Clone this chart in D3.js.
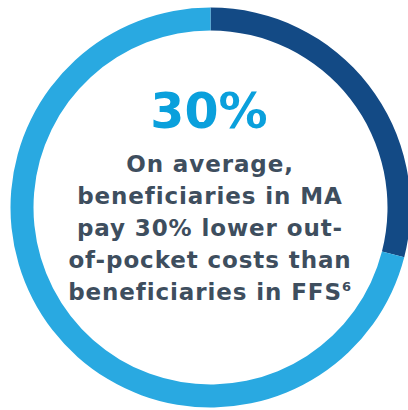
<!DOCTYPE html>
<html>
<head>
<meta charset="utf-8">
<script src="https://cdn.jsdelivr.net/npm/d3@7.9.0/dist/d3.min.js"></script>
<style>
  body { margin: 0; background: #fff; }
  svg { display: block; }
</style>
</head>
<body>
<svg width="408" height="410"></svg>
<script>
// ring data: share of MA savings vs remainder
const segments = ['Lower costs', 'Rest'];
const shares = [29, 71];
const colors = ['#134a85', '#29a9e1'];

const headline = '30%';
const bodyLines = ['On average,', 'beneficiaries in MA', 'pay 30% lower out-', 'of-pocket costs than', 'beneficiaries in FFS'];
const footnote = '6';

const svg = d3.select('svg');
const cx = 210.5, cy = 207.5;

const pie = d3.pie().sort(null).value(d => d);
const arc = d3.arc().innerRadius(177).outerRadius(200);

const g = svg.append('g').attr('transform', `translate(${cx},${cy})`);

g.selectAll('path')
  .data(pie(shares))
  .join('path')
  .attr('d', arc)
  .attr('fill', (d, i) => colors[i]);

// big number
svg.append('text')
  .attr('x', 209)
  .attr('y', 128)
  .attr('text-anchor', 'middle')
  .attr('font-family', 'DejaVu Sans')
  .attr('font-weight', 700)
  .attr('font-size', 49)
  .attr('fill', '#0aa0dc')
  .text(headline);

// body text
const body = svg.append('text')
  .attr('text-anchor', 'middle')
  .attr('font-family', 'DejaVu Sans')
  .attr('font-weight', 700)
  .attr('font-size', 23)
  .attr('letter-spacing', 0.9)
  .attr('fill', '#3e4e5e');

bodyLines.forEach((line, i) => {
  const t = body.append('tspan')
    .attr('x', 210)
    .attr('y', 172 + i * 32)
    .text(line);
  if (i === bodyLines.length - 1) {
    t.append('tspan')
      .attr('font-size', 13)
      .attr('dy', -9)
      .text(footnote);
  }
});
</script>
</body>
</html>
